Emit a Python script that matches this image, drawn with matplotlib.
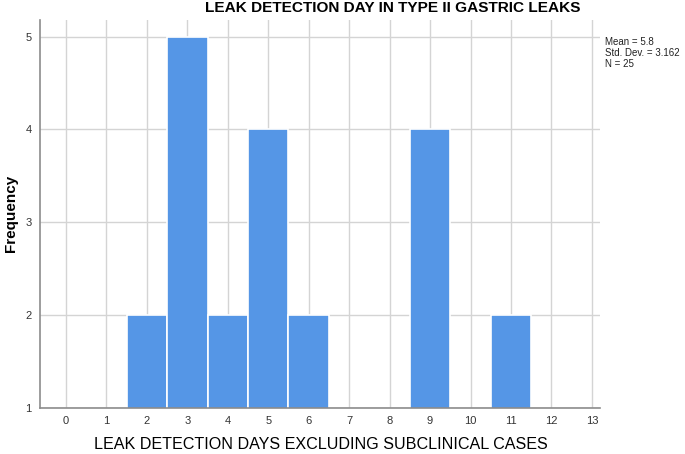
import matplotlib
matplotlib.use("Agg")
import matplotlib.pyplot as plt

plt.rcParams['font.family'] = ['Liberation Sans', 'DejaVu Sans']

# histogram values
days = [2, 3, 4, 5, 6, 9, 11]
freq = [2, 5, 2, 4, 2, 4, 2]
x_ticks = list(range(0, 14))
y_ticks = [1, 2, 3, 4, 5]
stats_lines = ["Mean = 5.8", "Std. Dev. = 3.162", "N = 25"]

title = "LEAK DETECTION DAY IN TYPE II GASTRIC LEAKS"
x_title = "LEAK DETECTION DAYS EXCLUDING SUBCLINICAL CASES"
y_title = "Frequency"

fig = plt.figure(figsize=(6.85, 4.54), dpi=100)
ax = fig.add_axes([0.0584, 0.1013, 0.8175, 0.855])

ax.bar(days, freq, width=1.0, color="#5596e6", edgecolor="white", linewidth=1.2, zorder=2)

ax.set_xlim(-0.64, 13.2)
ax.set_ylim(1, 5.18)
ax.set_xticks(x_ticks)
ax.set_yticks(y_ticks)
ax.tick_params(length=0, labelsize=8, colors="#333333", pad=6)
ax.grid(True, color="#d4d4d4", linewidth=1)
ax.set_axisbelow(True)

for s in ["top", "right"]:
    ax.spines[s].set_visible(False)
for s in ["left", "bottom"]:
    ax.spines[s].set_color("#8c8c8c")
    ax.spines[s].set_linewidth(1.2)
    ax.spines[s].set_zorder(4)

# axis titles placed in figure coords so they stay inside the canvas
fig.text(0.468, 0.020, x_title, fontsize=11.6, ha="center", va="center")
fig.text(0.016, 0.531, y_title, fontsize=11, fontweight="bold", rotation=90,
         ha="center", va="center")

fig.text(0.574, 0.983, title, fontsize=11.1, fontweight="bold", ha="center", va="center")
fig.text(0.883, 0.918, "\n".join(stats_lines), fontsize=7, ha="left", va="top",
         linespacing=1.1, color="#222222")

fig.savefig("out.png", dpi=100)
